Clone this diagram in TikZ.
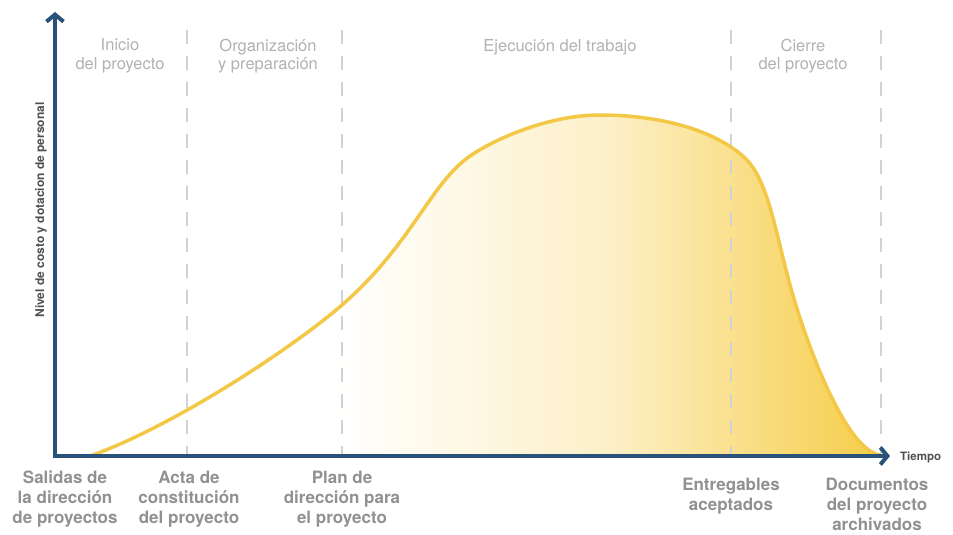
\documentclass[tikz,border=0pt]{standalone}
\usepackage{fontspec}
\setmainfont{TeX Gyre Heros}
\usetikzlibrary{arrows.meta}
\definecolor{axisblue}{RGB}{40,82,120}
\definecolor{curveyellow}{RGB}{243,200,70}
\definecolor{fillyellow}{RGB}{246,204,70}
\definecolor{phasegray}{RGB}{178,178,178}
\definecolor{labelgray}{RGB}{145,145,145}
\definecolor{dashgray}{RGB}{210,210,210}
\definecolor{titlegray}{RGB}{80,80,80}
\tikzset{
  axisline/.style={draw=axisblue, line width=4pt, -{Straight Barb[length=7pt,width=17pt,line width=4pt]}},
  phasesep/.style={draw=dashgray, line width=1.5pt, dash pattern=on 14pt off 12pt},
  phaselabel/.style={text=phasegray, align=center, font=\fontsize{16.5}{18.5}\selectfont, inner sep=0pt},
  outlabel/.style={text=labelgray, align=center, font=\fontsize{17}{20}\selectfont\bfseries, inner sep=0pt, anchor=north},
  axislabel/.style={text=titlegray, font=\fontsize{12}{14}\selectfont\bfseries, inner sep=0pt},
}
\begin{document}
\begin{tikzpicture}[x=1pt,y=-1pt]
\useasboundingbox (0,0) rectangle (953,535);
\fill[white] (0,0) rectangle (953,535);
% coordinates
\coordinate (O) at (55,456);
\coordinate (ytip) at (55,12);
\coordinate (xtip) at (890,456);
\coordinate (d1t) at (187,30); \coordinate (d1b) at (187,454);
\coordinate (d2t) at (342,30); \coordinate (d2b) at (342,454);
\coordinate (d3t) at (731,30); \coordinate (d3b) at (731,454);
\coordinate (d4t) at (881,30); \coordinate (d4b) at (881,454);
% curve shape
\def\curvepath{(90,456) .. controls (170,428) and (290,350) .. (342,305)
  .. controls (412,244) and (430,184) .. (470,156)
  .. controls (490,142) and (545,115) .. (600,115)
  .. controls (660,115) and (715,130) .. (745,158)
  .. controls (768,180) and (775,230) .. (790,285)
  .. controls (805,340) and (845,450) .. (880,455)}
\begin{scope}
  \clip \curvepath -- cycle;
  \shade[left color=white, right color=fillyellow, middle color=fillyellow!30] (335,90) rectangle (885,460);
\end{scope}
% dashed separators
\draw[phasesep] (d1t) -- (d1b);
\draw[phasesep] (d2t) -- (d2b);
\draw[phasesep] (d3t) -- (d3b);
\draw[phasesep] (d4t) -- (d4b);
% curve outline
\draw[curveyellow, line width=3.5pt, line cap=round] \curvepath;
% axes
\draw[axisline] ([yshift=2pt]O) -- (ytip);
\draw[axisline] ([xshift=-2pt]O) -- (xtip);
% axis labels
\node[axislabel, rotate=90] (ylab) at (41,210) {Nivel de costo y dotacion de personal};
\node[axislabel, anchor=west, font=\fontsize{11.5}{13}\selectfont\bfseries] (tiempo) at (900,457) {Tiempo};
% phase labels
\node[phaselabel] (p1) at (120,56) {Inicio\\del proyecto};
\node[phaselabel] (p2) at (268,56) {Organización\\y preparación};
\node[phaselabel] (p3) at (560,47) {Ejecución del trabajo};
\node[phaselabel] (p4) at (803,56) {Cierre\\del proyecto};
% output labels
\node[outlabel] (o1) at (65,471) {Salidas de\\la dirección\\de proyectos};
\node[outlabel] (o2) at (189,471) {Acta de\\constitución\\del proyecto};
\node[outlabel] (o3) at (342,471) {Plan de\\dirección para\\el proyecto};
\node[outlabel] (o4) at (731,478) {Entregables\\aceptados};
\node[outlabel] (o5) at (877,478) {Documentos\\del proyecto\\archivados};
\end{tikzpicture}
\end{document}
